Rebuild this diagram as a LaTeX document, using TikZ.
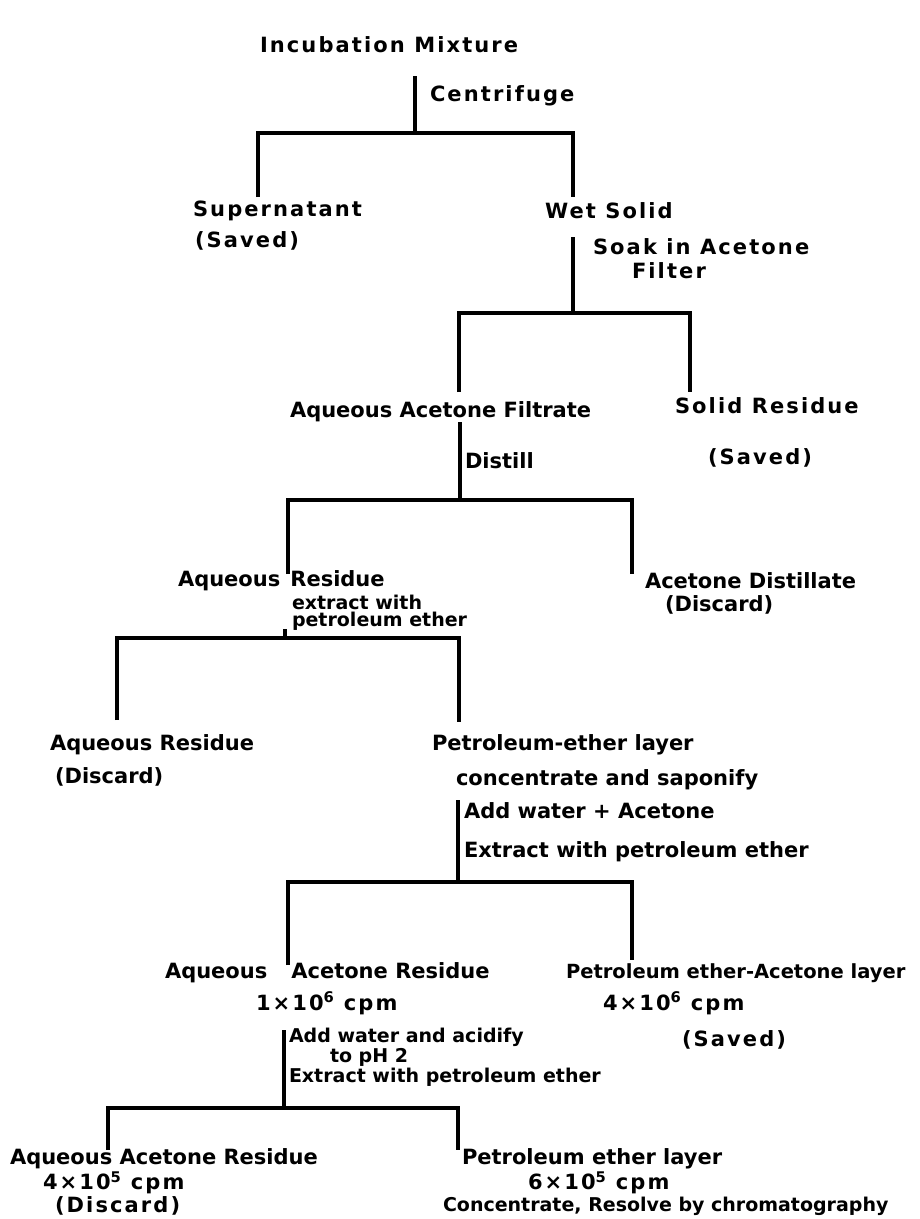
\documentclass[tikz,border=0pt]{standalone}
\usepackage{fontspec}
\usepackage{tikz}
\setmainfont{DejaVu Sans}
\newfontfamily\widefont[LetterSpace=10]{DejaVu Sans}

\tikzset{
  lbl/.style={anchor=west,inner sep=0pt,outer sep=0pt,font=\bfseries\fontsize{21}{24}\selectfont},
  slbl/.style={anchor=west,inner sep=0pt,outer sep=0pt,font=\bfseries\fontsize{19}{22}\selectfont},
  wlbl/.style={anchor=west,inner sep=0pt,outer sep=0pt,font=\widefont\bfseries\fontsize{21}{24}\selectfont},
  branch/.style={line width=3.2pt}
}

\begin{document}
\begin{tikzpicture}[x=1pt,y=-1pt]
  \useasboundingbox (0,0) rectangle (919,1219);
  % first split
  \node[wlbl] (incub) at (260,45) {Incubation Mixture};
  \node[wlbl] (centr) at (430,96) {Centrifuge};
  \node[wlbl] (super) at (193,211) {Supernatant};
  \node[wlbl] (supsv) at (195,241) {(Saved)};
  \node[wlbl] (wetsd) at (545,211) {Wet Solid};
  \coordinate (a0) at (415,76);
  \coordinate (aL) at (258,133);
  \coordinate (aR) at (573,133);
  \coordinate (aLe) at (258,197);
  \coordinate (aRe) at (573,197);
  \draw[branch] (a0) -- (a0 |- aL);
  \draw[branch] (aLe) -- (aL) -- (aR) -- (aRe);
  % second split
  \node[wlbl] (soak) at (593,247) {Soak in Acetone};
  \node[wlbl] (filt) at (632,271) {Filter};
  \node[lbl] (aqfil) at (290,412) {Aqueous Acetone Filtrate};
  \node[wlbl] (solres) at (675,406) {Solid Residue};
  \node[wlbl] (solsv) at (708,458) {(Saved)};
  \coordinate (b0) at (573,237);
  \coordinate (bL) at (459,313);
  \coordinate (bR) at (690,313);
  \coordinate (bLe) at (459,392);
  \coordinate (bRe) at (690,392);
  \draw[branch] (b0) -- (b0 |- bL);
  \draw[branch] (bLe) -- (bL) -- (bR) -- (bRe);
  % third split
  \node[lbl] (dist) at (465,461) {Distill};
  \node[lbl] (aqres) at (178,581) {Aqueous\hspace{10pt}Residue};
  \node[slbl] (extr1) at (292,602) {extract with};
  \node[slbl] (extr2) at (292,621) {petroleum ether};
  \node[lbl] (acdis) at (645,581) {Acetone Distillate};
  \node[lbl] (acdsc) at (665,605) {(Discard)};
  \coordinate (c0) at (460,422);
  \coordinate (cL) at (288,500);
  \coordinate (cR) at (632,500);
  \coordinate (cLe) at (288,574);
  \coordinate (cRe) at (632,574);
  \draw[branch] (c0) -- (c0 |- cL);
  \draw[branch] (cLe) -- (cL) -- (cR) -- (cRe);
  % fourth split
  \node[lbl] (aqres2) at (50,745) {Aqueous Residue};
  \node[lbl] (aqdsc2) at (55,777) {(Discard)};
  \node[lbl] (petlay) at (432,745) {Petroleum-ether layer};
  \node[lbl] (conc) at (456,780) {concentrate and saponify};
  \coordinate (d0) at (285,629);
  \coordinate (dL) at (117,638);
  \coordinate (dR) at (459,638);
  \coordinate (dLe) at (117,720);
  \coordinate (dRe) at (459,722);
  \draw[branch] (d0) -- (d0 |- dL);
  \draw[branch] (dLe) -- (dL) -- (dR) -- (dRe);
  % fifth split
  \node[lbl] (addw) at (464,811) {Add water + Acetone};
  \node[lbl] (extr3) at (464,852) {Extract with petroleum ether};
  \node[lbl] (aqac) at (165,973) {Aqueous\hspace{24pt}Acetone Residue};
  \node[wlbl] (cpm1) at (256,1003) {1×10\textsuperscript{6} cpm};
  \node[lbl,font=\bfseries\fontsize{19.5}{22}\selectfont] (petac) at (566,973) {Petroleum ether-Acetone layer};
  \node[wlbl] (cpm4) at (603,1003) {4×10\textsuperscript{6} cpm};
  \node[wlbl] (petsv) at (682,1040) {(Saved)};
  \coordinate (e0) at (458,800);
  \coordinate (eL) at (288,882);
  \coordinate (eR) at (632,882);
  \coordinate (eLe) at (288,965);
  \coordinate (eRe) at (632,960);
  \draw[branch] (e0) -- (e0 |- eL);
  \draw[branch] (eLe) -- (eL) -- (eR) -- (eRe);
  % last split
  \node[slbl] (acid) at (289,1037) {Add water and acidify};
  \node[slbl] (toph) at (330,1057) {to pH 2};
  \node[slbl] (extr4) at (289,1077) {Extract with petroleum ether};
  \node[lbl] (aqac2) at (10,1159) {Aqueous Acetone Residue};
  \node[wlbl] (cpm5) at (43,1183) {4×10\textsuperscript{5} cpm};
  \node[wlbl] (aqdsc3) at (55,1206) {(Discard)};
  \node[lbl] (petlay2) at (462,1159) {Petroleum ether layer};
  \node[wlbl] (cpm6) at (528,1183) {6×10\textsuperscript{5} cpm};
  \node[slbl] (chrom) at (443,1206) {Concentrate, Resolve by chromatography};
  \coordinate (f0) at (284,1030);
  \coordinate (fL) at (108,1108);
  \coordinate (fR) at (458,1108);
  \coordinate (fLe) at (108,1150);
  \coordinate (fRe) at (458,1150);
  \draw[branch] (f0) -- (f0 |- fL);
  \draw[branch] (fLe) -- (fL) -- (fR) -- (fRe);
\end{tikzpicture}
\end{document}
